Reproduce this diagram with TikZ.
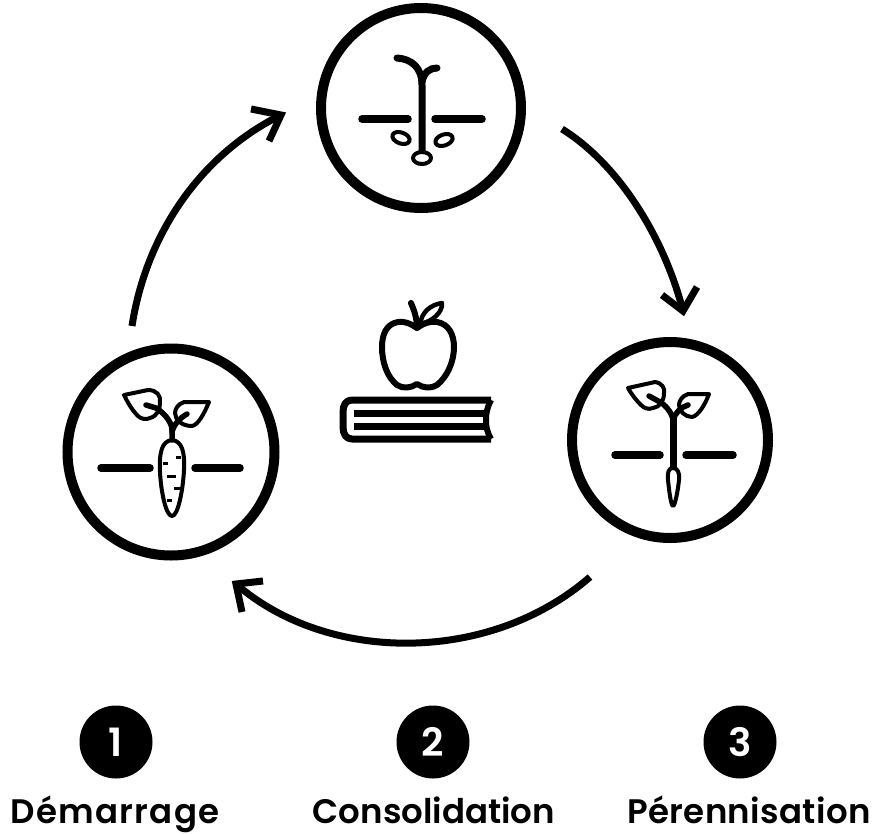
\documentclass[tikz,border=0pt]{standalone}
\usepackage{fontspec}
\setmainfont{Poppins}[BoldFont={Poppins SemiBold}]
\usetikzlibrary{arrows.meta}
\tikzset{
  x=1pt,y=-1pt,
  ring/.style={circle,draw=black,line width=10pt,fill=white,inner sep=0pt,outer sep=0pt},
  ground/.style={line width=7.5pt,line cap=round},
  stem/.style={line width=7pt,line cap=round},
  thinl/.style={line width=4pt,line join=round,line cap=round},
  veinl/.style={line width=5.5pt,line cap=round},
  cycle shaft/.style={line width=7pt},
  cycle head/.style={line width=7pt,line join=miter},
  badge/.style={circle,fill=black,text=white,minimum size=73pt,inner sep=0pt,font=\fontsize{39}{39}\selectfont\bfseries},
  caption/.style={anchor=base,inner sep=0pt,font=\fontsize{34}{36}\selectfont\bfseries}
}
\begin{document}
\begin{tikzpicture}
\useasboundingbox (0,0) rectangle (875,833);
\fill[white] (0,0) rectangle (875,833);
% rings
\node[ring,minimum size=200pt] (topc) at (421,108) {};
\node[ring,minimum size=207pt] (leftc) at (171,452) {};
\node[ring,minimum size=196pt] (rightc) at (670,440) {};
% arrows
\coordinate (a1s) at (132,326);
\coordinate (a1e) at (281,115);
\coordinate (a1p) at (251,109);
\coordinate (a1q) at (269,141);
\coordinate (a2s) at (562,129);
\coordinate (a2e) at (683,311);
\coordinate (a2p) at (662,295);
\coordinate (a2q) at (697,287);
\coordinate (a3s) at (590,577);
\coordinate (a3e) at (236,584);
\coordinate (a3p) at (263,581);
\coordinate (a3q) at (242,612);
\draw[cycle shaft] (a1s) .. controls (146,235) and (200,155) .. (a1e);
\draw[cycle head] (a1p) -- (a1e) -- (a1q);
\draw[cycle shaft] (a2s) .. controls (620,165) and (665,240) .. (a2e);
\draw[cycle head] (a2p) -- (a2e) -- (a2q);
\draw[cycle shaft] (a3s) .. controls (490,664) and (328,664) .. (a3e);
\draw[cycle head] (a3p) -- (a3e) -- (a3q);
% top icon
\draw[ground] (362,119) -- (408,119) (435,119) -- (482,119);
\draw[stem] (422,153) -- (422,85) .. controls (422,68) and (412,59) .. (397,58);
\draw[stem] (422,82) .. controls (424,72) and (430,68) .. (437,68);
\draw[thinl,rotate around={-20:(401,138)}] (401,138) ellipse (9 and 5.5);
\draw[thinl,rotate around={20:(444,140)}] (444,140) ellipse (9 and 5.5);
\draw[thinl,fill=white] (422,158) ellipse (9 and 6);
% left icon
\draw[ground] (101,468) -- (150,468) (195,468) -- (240,468);
\draw[thinl,fill=white] (172,440) .. controls (162,441) and (159,452) .. (160,472) .. controls (161,492) and (166,516) .. (172,516) .. controls (178,516) and (183,490) .. (184,470) .. controls (185,452) and (182,441) .. (172,440) -- cycle;
\draw[line width=3pt] (163,463) -- (168,463) (176,457) -- (181,457) (167,476) -- (176,476) (174,488) -- (181,488) (167,500) -- (172,500);
\draw[thinl] (124,395) -- (148,390) .. controls (157,390) and (161,396) .. (160,402) .. controls (160,410) and (157,416) .. (150,418) .. controls (146,420) and (141,419) .. (138,416) .. controls (132,410) and (128,403) .. (124,395) -- cycle;
\draw[thinl] (209,402) -- (184,402) .. controls (178,404) and (175,409) .. (175,413) .. controls (175,420) and (182,426) .. (192,426) .. controls (198,425) and (204,414) .. (209,402) -- cycle;
\draw[veinl] (172,440) -- (172,430) .. controls (172,420) and (160,410) .. (156,408) -- (146,405);
\draw[veinl] (172,432) .. controls (174,424) and (180,418) .. (187,414);
% right icon
\draw[ground] (615,455) -- (660,455) (686,455) -- (733,455);
\draw[stem] (673,470) -- (673,418);
\draw[thinl,fill=white] (673,468) .. controls (669,468) and (667,472) .. (668,480) .. controls (669,490) and (671,506) .. (673,506) .. controls (675,506) and (678,490) .. (679,480) .. controls (680,472) and (677,468) .. (673,468) -- cycle;
\draw[thinl] (628,388) -- (655,382) .. controls (662,383) and (665,388) .. (664,393) .. controls (664,401) and (660,407) .. (653,408) .. controls (648,410) and (644,408) .. (641,405) .. controls (636,400) and (632,395) .. (628,388) -- cycle;
\draw[thinl] (709,394) -- (688,394) .. controls (682,396) and (679,401) .. (679,405) .. controls (679,411) and (685,417) .. (692,417) .. controls (698,416) and (705,405) .. (709,394) -- cycle;
\draw[veinl] (673,420) .. controls (672,412) and (664,404) .. (660,402) -- (649,396);
\draw[veinl] (673,420) .. controls (675,413) and (681,407) .. (688,405);
% apple and book
\draw[line width=6pt,line join=round] (417,328) .. controls (410,323) and (403,321) .. (398,322) .. controls (386,324) and (382,335) .. (382,347) .. controls (382,362) and (387,377) .. (397,385) .. controls (403,389) and (411,388) .. (417,384) .. controls (423,388) and (431,389) .. (437,385) .. controls (447,377) and (454,362) .. (454,347) .. controls (454,335) and (449,324) .. (437,322) .. controls (430,321) and (424,323) .. (417,328) -- cycle;
\draw[line width=6pt,line cap=round] (417,328) .. controls (417,318) and (414,310) .. (411,303);
\draw[line width=4.5pt,line join=round] (420,324) .. controls (422,312) and (430,305) .. (442,303) .. controls (443,312) and (432,322) .. (420,324) -- cycle;
\draw[line width=7pt,line join=round] (491,400) -- (352,400) .. controls (346,400) and (343,405) .. (343,412) -- (343,427) .. controls (343,434) and (346,439) .. (352,439) -- (491,439);
\draw[line width=6pt] (491,400) .. controls (487,408) and (486,413) .. (486,420) .. controls (486,427) and (487,432) .. (491,439);
\draw[line width=7pt] (354,413) -- (486,413) (354,426) -- (486,426);
% legend
\node[badge] (b1) at (116,742) {1};
\node[badge] (b2) at (433,742) {2};
\node[badge] (b3) at (740,742) {3};
\node[caption] (c1) at (115,823) {\addfontfeature{LetterSpace=4}Démarrage};
\node[caption] (c2) at (434,823) {Consolidation};
\node[caption] (c3) at (749,823) {\addfontfeature{LetterSpace=1}Pérennisation};
\end{tikzpicture}
\end{document}
